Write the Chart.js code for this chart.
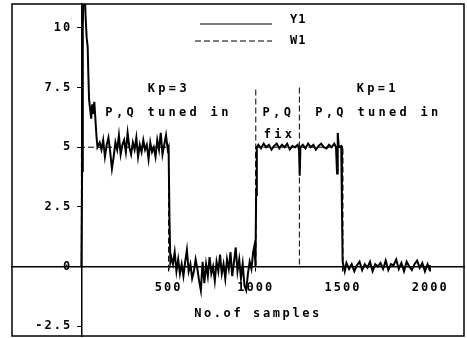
<!DOCTYPE html>
<html>
<head>
<meta charset="utf-8">
<script src="https://cdn.jsdelivr.net/npm/chart.js@4"></script>
<style>
  html, body { margin: 0; padding: 0; background: #fff; }
  #wrap { width: 467px; height: 338px; }
</style>
</head>
<body>
<div id="wrap"><canvas id="plot"></canvas></div>
<script>
const y1Samples = [
  0, 4, 8, 12, 18, 24, 30, 36, 40, 44, 50, 56, 62, 68, 74, 80, 86, 92,
  105, 115, 125, 135, 145, 155, 165, 175, 185, 195, 205, 215, 225, 235, 245, 255,
  265, 275, 285, 295, 305, 315, 325, 335, 345, 355, 365, 375, 385, 395, 405, 415,
  425, 435, 445, 455, 465, 475, 485, 495, 500, 505, 510,
  515, 525, 535, 545, 555, 565, 575, 585, 595, 605, 615, 625, 635, 645, 655, 665,
  675, 685, 695, 705, 715, 725, 735, 745, 755, 765, 775, 785, 795, 805, 815, 825,
  835, 845, 855, 865, 875, 885, 895, 905, 915, 925, 935, 945, 955, 965, 975, 985,
  993, 998, 1002, 1006,
  1015, 1030, 1045, 1060, 1075, 1090, 1105, 1120, 1135, 1150, 1165, 1180, 1195,
  1210, 1225, 1240, 1248, 1252, 1256, 1270, 1285, 1300, 1315, 1330, 1345, 1360,
  1375, 1390, 1405, 1420, 1435, 1450, 1460, 1466, 1470, 1476, 1490, 1494, 1498,
  1510, 1520, 1535, 1550, 1565, 1580, 1595, 1610, 1625, 1640, 1655, 1670, 1685,
  1700, 1715, 1730, 1745, 1760, 1775, 1790, 1805, 1820, 1835, 1850, 1865, 1880,
  1895, 1910, 1925, 1940, 1955, 1970, 1985, 1995, 2000
];
const y1Values = [
  0, 4, 10, 11.6, 11.8, 10.5, 9.6, 9.2, 8.0, 7.0, 6.6, 6.2, 6.8, 6.4, 6.9, 6.2, 5.5, 5.0,
  5.2, 4.9, 5.3, 4.6, 5.1, 5.4, 4.8, 4.1, 4.6, 5.2, 4.9, 5.5, 4.7, 5.1, 5.3, 4.8,
  5.6, 5.0, 4.7, 5.2, 4.9, 5.4, 4.6, 5.1, 4.8, 5.3, 4.9, 5.1, 4.5, 5.2, 4.8, 5.0,
  4.6, 5.3, 4.9, 5.6, 4.7, 5.1, 5.5, 4.9, 5.0, 2.0, 0.2,
  0.4, 0.1, 0.6, -0.2, 0.3, -0.3, 0.1, -0.4, 0.2, 0.7, -0.2, 0.1, -0.5, -0.2, 0.3, -0.1,
  -0.6, -1.0, 0.2, -0.7, 0.1, -0.4, 0.4, -0.3, 0.0, -0.6, 0.2, -0.2, 0.5, -0.3, 0.1, -0.5,
  0.3, -0.1, 0.6, -0.4, 0.2, 0.8, -0.2, 0.3, -0.5, 0.1, -0.8, -1.0, -0.3, 0.2, -0.1, 0.6,
  0.9, 0.0, 3.0, 5.0,
  5.1, 4.95, 5.15, 5.0, 5.1, 4.9, 5.05, 5.15, 4.95, 5.1, 5.0, 5.15, 4.9,
  5.05, 5.0, 5.1, 4.9, 3.8, 5.0, 5.1, 4.95, 5.15, 5.0, 5.1, 4.9, 5.05,
  5.15, 5.0, 4.95, 5.1, 5.0, 5.15, 5.0, 3.9, 5.6, 5.0, 5.05, 2.5, 0.2,
  -0.2, 0.15, -0.1, 0.1, -0.2, 0.05, 0.2, -0.15, 0.1, -0.05, 0.2, -0.2, 0.1,
  0.0, 0.15, -0.1, 0.25, -0.15, 0.1, 0.05, 0.3, -0.1, 0.15, -0.2, 0.2, 0.0,
  -0.15, 0.1, 0.25, -0.05, 0.15, -0.2, 0.1, -0.1, 0.05
];

// W1: set point
const w1Samples = [0, 0, 500, 500, 1000, 1000, 1500, 1500, 2000];
const w1Values = [0, 5, 5, 0, 0, 5, 5, 0, 0];

// dashed separators of the "P,Q fix" phase
const sepSamples = [1000, 1000, 1125, 1250, 1250];
const sepValues = [0, 7.5, null, 7.5, 0];

const xTicks = [500, 1000, 1500, 2000];
const yTicks = [-2.5, 0, 2.5, 5, 7.5, 10];

const toPoints = (xs, ys) => xs.map((x, i) => ({ x: x, y: ys[i] }));

const FONT = '"DejaVu Sans Mono", monospace';

// text notes, placed in data units
const notes = [
  { text: 'Kp=3', x: 490, y: 7.45 },
  { text: 'P,Q tuned in', x: 488, y: 6.45 },
  { text: 'P,Q', x: 1118, y: 6.45 },
  { text: 'fix', x: 1125, y: 5.5 },
  { text: 'Kp=1', x: 1688, y: 7.45 },
  { text: 'P,Q tuned in', x: 1692, y: 6.45 }
];

// positioned axes should not eat into the plot
function noSpace(s) {
  if (s.isHorizontal()) s.height = 0; else s.width = 0;
  s.paddingTop = 0; s.paddingBottom = 0; s.paddingLeft = 0; s.paddingRight = 0;
}

const paperPlugin = {
  id: 'paper',
  beforeDraw(chart) {
    chart.ctx.letterSpacing = '2px';
  },
  afterDraw(chart) {
    const { ctx, chartArea: a, scales } = chart;
    ctx.save();
    // outer frame
    ctx.strokeStyle = '#000';
    ctx.lineWidth = 1.5;
    ctx.strokeRect(a.left, a.top, a.right - a.left, a.bottom - a.top);

    ctx.fillStyle = '#000';
    ctx.font = 'bold 12px ' + FONT;
    ctx.letterSpacing = '3.3px';
    ctx.textAlign = 'center';
    ctx.textBaseline = 'middle';
    notes.forEach(n => {
      ctx.fillText(n.text, scales.x.getPixelForValue(n.x) + 2, scales.y.getPixelForValue(n.y));
    });

    // axis title
    ctx.letterSpacing = '2.6px';
    ctx.fillText('No.of samples', 258, 314);

    // legend: line sample then label
    const rows = [[200, 24, 20], [195, 41, 41]];
    chart.data.datasets.slice(0, 2).forEach((ds, i) => {
      const [x0, ly, ty] = rows[i];
      ctx.beginPath();
      ctx.setLineDash(ds.borderDash || []);
      ctx.lineWidth = 1.2;
      ctx.strokeStyle = '#000';
      ctx.moveTo(x0, ly);
      ctx.lineTo(272, ly);
      ctx.stroke();
      ctx.setLineDash([]);
      ctx.textAlign = 'left';
      ctx.letterSpacing = '1px';
      ctx.fillText(ds.label, 290, ty);
    });
    ctx.restore();
  }
};

new Chart(document.getElementById('plot').getContext('2d'), {
  type: 'line',
  data: {
    datasets: [
      {
        label: 'Y1',
        data: toPoints(y1Samples, y1Values),
        borderColor: '#000',
        borderWidth: 2,
        pointRadius: 0,
        tension: 0,
        order: 1
      },
      {
        label: 'W1',
        data: toPoints(w1Samples, w1Values),
        borderColor: '#000',
        borderWidth: 1,
        borderDash: [6, 3],
        pointRadius: 0,
        order: 2
      },
      {
        label: 'sep',
        data: toPoints(sepSamples, sepValues),
        borderColor: '#000',
        borderWidth: 1,
        borderDash: [6, 3],
        pointRadius: 0,
        spanGaps: false,
        order: 3
      }
    ]
  },
  options: {
    responsive: true,
    maintainAspectRatio: false,
    animation: false,
    layout: { padding: { left: 12, top: 4, right: 3, bottom: 2 } },
    plugins: {
      legend: { display: false },
      tooltip: { enabled: false }
    },
    scales: {
      x: {
        type: 'linear',
        min: -398,
        max: 2194,
        position: { y: 0 },
        afterBuildTicks: s => { s.ticks = xTicks.map(v => ({ value: v })); },
        afterFit: noSpace,
        border: { display: true, color: '#000', width: 1.5 },
        grid: { drawOnChartArea: false, drawTicks: true, tickLength: 4, color: '#000' },
        ticks: {
          color: '#000',
          padding: 10,
          maxRotation: 0,
          callback: v => String(v),
          font: { family: FONT, size: 12, weight: 'bold' }
        }
      },
      y: {
        type: 'linear',
        min: -2.91,
        max: 11.0,
        position: { x: 0 },
        afterBuildTicks: s => { s.ticks = yTicks.map(v => ({ value: v })); },
        afterFit: noSpace,
        border: { display: true, color: '#000', width: 1.5 },
        grid: { drawOnChartArea: false, drawTicks: true, tickLength: 4, color: '#000' },
        ticks: {
          color: '#000',
          padding: 8,
          // trailing space keeps the label clear of the axis line
          callback: v => String(v) + ' ',
          font: { family: FONT, size: 12, weight: 'bold' }
        }
      }
    }
  },
  plugins: [paperPlugin]
});
</script>
</body>
</html>
